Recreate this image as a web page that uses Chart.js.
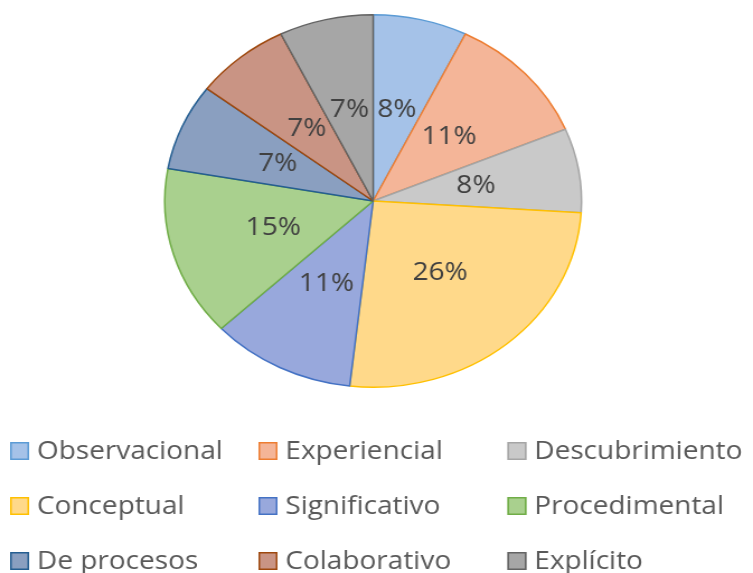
<!DOCTYPE html>
<html>
<head>
<meta charset="utf-8">
<script src="https://cdn.jsdelivr.net/npm/chart.js@4/dist/chart.umd.min.js"></script>
<style>
html,body{margin:0;padding:0;background:#fff;overflow:hidden;}
#wrap{position:absolute;left:0;top:0;width:673px;height:573px;transform:scaleX(1.1189);transform-origin:0 0;}
</style>
</head>
<body>
<div id="wrap"><canvas id="c" width="673" height="573"></canvas></div>
<script>
const categories = ["Observacional","Experiencial","Descubrimiento","Conceptual","Significativo","Procedimental","De procesos","Colaborativo","Explícito"];
const values = [7.3, 11.4, 7.3, 25.8, 11.2, 14.8, 7.5, 7.4, 7.3];
const labelsText = ["8%","11%","8%","26%","11%","15%","7%","7%","7%"];
const fillColors = ["#a5c2e8","#f4b598","#c9c9c9","#ffd98a","#98a8dc","#a9d08e","#8a9fc0","#c99484","#a6a6a6"];
const borderColors = ["#5b9bd5","#ed7d31","#a5a5a5","#ffc000","#4472c4","#70ad47","#255e91","#9e480e","#636363"];

const FONT = '"Open Sans", sans-serif';

const labelPlugin = {
  id: 'sliceLabels',
  afterDatasetsDraw(chart) {
    const ctx = chart.ctx;
    const meta = chart.getDatasetMeta(0);
    ctx.save();
    ctx.font = '25px ' + FONT;
    ctx.fillStyle = '#404040';
    ctx.textAlign = 'center';
    ctx.textBaseline = 'middle';
    meta.data.forEach((arc, i) => {
      const p = arc.tooltipPosition();
      ctx.fillText(labelsText[i], p.x, p.y);
    });
    ctx.restore();
  }
};

const legendPlugin = {
  id: 'gridLegend',
  afterDraw(chart) {
    const ctx = chart.ctx;
    const colX = [9, 231, 453.5];
    const rowY = [451, 506, 561];
    ctx.save();
    ctx.font = '25px ' + FONT;
    ctx.textBaseline = 'middle';
    ctx.textAlign = 'left';
    categories.forEach((name, i) => {
      const x = colX[i % 3];
      const y = rowY[Math.floor(i / 3)];
      ctx.fillStyle = fillColors[i];
      ctx.fillRect(x, y - 9, 17, 18);
      ctx.strokeStyle = borderColors[i];
      ctx.lineWidth = 1.5;
      ctx.strokeRect(x + 0.75, y - 8.25, 15.5, 16.5);
      ctx.fillStyle = '#595959';
      ctx.fillText(name, x + 24, y + 1);
    });
    ctx.restore();
  }
};

new Chart(document.getElementById('c'), {
  type: 'pie',
  data: {
    labels: categories,
    datasets: [{
      data: values,
      backgroundColor: fillColors,
      borderColor: borderColors,
      borderWidth: 1.5
    }]
  },
  options: {
    responsive: false,
    animation: false,
    devicePixelRatio: 1,
    layout: { padding: { top: 14, bottom: 185, left: 0, right: 6 } },
    plugins: { legend: { display: false }, tooltip: { enabled: false } }
  },
  plugins: [labelPlugin, legendPlugin]
});
</script>
</body>
</html>
